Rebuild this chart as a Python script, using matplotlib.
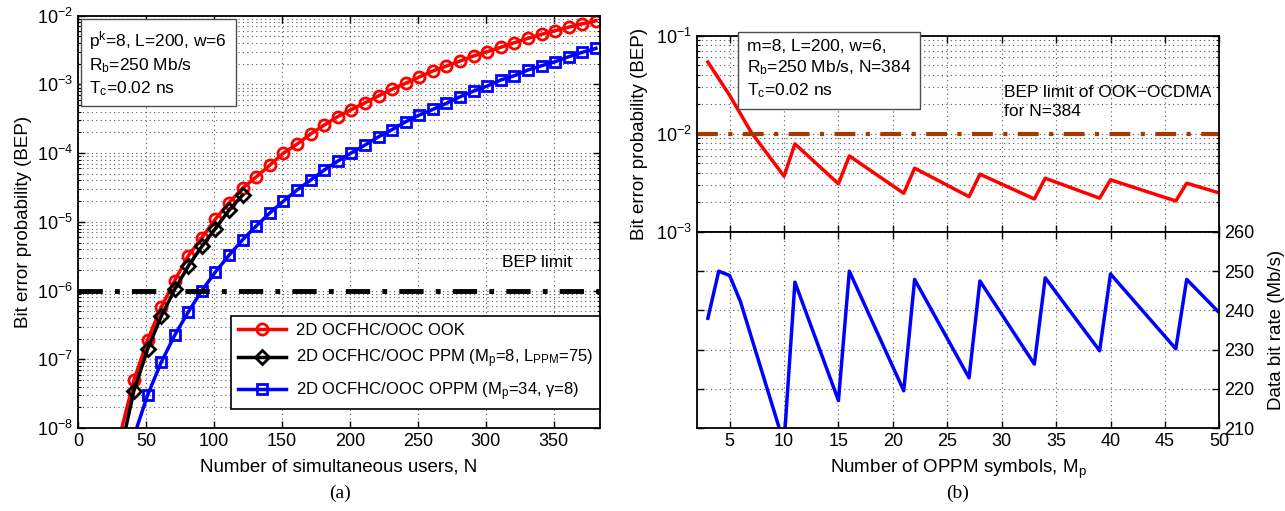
import numpy as np
import matplotlib
matplotlib.use("Agg")
import matplotlib.pyplot as plt
from matplotlib.ticker import LogLocator, NullFormatter, MultipleLocator

# ---------------------------------------------------------
# DATA (a): BEP versus number of simultaneous users
# ---------------------------------------------------------

users_ook = [31, 41, 51, 61, 71, 81, 91, 101, 111, 121, 131, 141, 151, 161,
             171, 181, 191, 201, 211, 221, 231, 241, 251, 261, 271, 281,
             291, 301, 311, 321, 331, 341, 351, 361, 371, 381]
bep_ook = [8.3e-9, 5.0e-8, 1.9e-7, 5.7e-7, 1.4e-6, 3.2e-6, 5.9e-6, 1.1e-5,
           1.9e-5, 3.1e-5, 4.5e-5, 6.7e-5, 1.0e-4, 1.35e-4, 1.9e-4, 2.56e-4,
           3.4e-4, 4.3e-4, 5.4e-4, 6.8e-4, 8.5e-4, 1.04e-3, 1.28e-3, 1.57e-3,
           1.85e-3, 2.19e-3, 2.59e-3, 2.99e-3, 3.47e-3, 4.05e-3, 4.68e-3,
           5.36e-3, 6.05e-3, 6.8e-3, 7.6e-3, 8.45e-3]

users_ppm = [31, 41, 51, 61, 71, 81, 91, 101, 111, 121]
bep_ppm = [4.4e-9, 3.5e-8, 1.39e-7, 4.2e-7, 1.04e-6, 2.27e-6, 4.4e-6, 8.0e-6,
           1.48e-5, 2.45e-5]

users_oppm = [41, 51, 61, 71, 81, 91, 101, 111, 121, 131, 141, 151, 161, 171,
              181, 191, 201, 211, 221, 231, 241, 251, 261, 271, 281, 291,
              301, 311, 321, 331, 341, 351, 361, 371, 381]
bep_oppm = [7.6e-9, 3.0e-8, 9.0e-8, 2.24e-7, 4.9e-7, 1.0e-6, 1.87e-6, 3.27e-6,
            5.5e-6, 8.7e-6, 1.35e-5, 2.0e-5, 2.9e-5, 4.05e-5, 5.66e-5, 7.65e-5,
            1.01e-4, 1.31e-4, 1.73e-4, 2.2e-4, 2.86e-4, 3.58e-4, 4.33e-4,
            5.3e-4, 6.6e-4, 8.0e-4, 9.46e-4, 1.16e-3, 1.34e-3, 1.62e-3,
            1.87e-3, 2.14e-3, 2.53e-3, 2.93e-3, 3.35e-3]

bep_limit_a = 1e-6

# ---------------------------------------------------------
# DATA (b): BEP and data rate versus OPPM symbols
# ---------------------------------------------------------

mp_bep = [3, 5, 7, 10, 11, 15, 16, 21, 22, 27, 28, 33, 34, 39, 40, 46, 47, 50]
bep_mp = [5.4e-2, 2.47e-2, 1.03e-2, 3.7e-3, 7.9e-3, 3.1e-3, 5.95e-3, 2.48e-3,
          4.47e-3, 2.29e-3, 3.88e-3, 2.17e-3, 3.53e-3, 2.21e-3, 3.4e-3,
          2.07e-3, 3.14e-3, 2.5e-3]

mp_rate = [3, 4, 5, 6, 10, 11, 15, 16, 21, 22, 27, 28, 33, 34, 39, 40, 46, 47, 50]
rate_mp = [238.0, 250.0, 248.9, 242.2, 206.0, 247.2, 217.0, 250.0, 219.5,
           247.9, 222.8, 247.5, 226.3, 248.3, 229.7, 249.3, 230.2, 247.9, 239.4]

bep_limit_b = 1e-2

# ---------------------------------------------------------
# STYLE
# ---------------------------------------------------------

plt.rcParams['font.family'] = ['Liberation Sans', 'DejaVu Sans']
plt.rcParams['font.size'] = 12
plt.rcParams['mathtext.fontset'] = 'custom'
plt.rcParams['mathtext.rm'] = 'Liberation Sans'
plt.rcParams['mathtext.it'] = 'Liberation Sans'
plt.rcParams['mathtext.bf'] = 'Liberation Sans:bold'
plt.rcParams['axes.linewidth'] = 1.3

grid_kw = dict(linestyle=(0, (1, 3)), color='0.35', linewidth=0.8)
label_size = 13.5


def style_ticks(ax):
    ax.tick_params(which='both', direction='in', top=True, right=True,
                   labelsize=13)
    ax.tick_params(which='major', length=5, width=1)
    ax.tick_params(which='minor', length=2.5, width=0.8)


fig = plt.figure(figsize=(12.85, 5.11), dpi=100)

# =========================================================
# PANEL (a)
# =========================================================

ax1 = fig.add_axes([0.0609, 0.1624, 0.4060, 0.8069])

ax1.plot(users_ook, bep_ook, '-o', color='red', lw=2.5, ms=8, mew=2,
         mfc='none', markevery=slice(1, None), label='2D OCFHC/OOC OOK')
ax1.plot(users_ppm, bep_ppm, '-D', color='black', lw=2.5, ms=7, mew=2,
         mfc='none', markevery=slice(1, None),
         label='2D OCFHC/OOC PPM (M$_p$=8, L$_{PPM}$=75)')
ax1.plot(users_oppm, bep_oppm, '-s', color='blue', lw=2.5, ms=7, mew=2,
         mfc='none', markevery=slice(1, None),
         label='2D OCFHC/OOC OPPM (M$_p$=34, γ=8)')
ax1.axhline(bep_limit_a, color='black', lw=3.5, linestyle=(0, (5, 2.5, 1, 2.5)))

ax1.set_yscale('log')
ax1.set_xlim(0, 384)
ax1.set_ylim(1e-8, 1e-2)
ax1.xaxis.set_major_locator(MultipleLocator(50))
ax1.yaxis.set_major_locator(LogLocator(base=10, numticks=10))
ax1.yaxis.set_minor_locator(LogLocator(base=10, subs=np.arange(2, 10), numticks=100))
ax1.yaxis.set_minor_formatter(NullFormatter())
ax1.grid(True, which='both', **grid_kw)
style_ticks(ax1)

ax1.set_xlabel('Number of simultaneous users, N', fontsize=label_size, labelpad=6)
ax1.set_ylabel('Bit error probability (BEP)', fontsize=label_size, labelpad=4)

ax1.text(312, 2.55e-6, 'BEP limit', fontsize=12.5, va='center')
ax1.text(0.021, 0.968, 'p$^k$=8, L=200, w=6\nR$_b$=250 Mb/s\nT$_c$=0.02 ns',
         transform=ax1.transAxes, fontsize=12.5, va='top', ha='left',
         linespacing=1.3,
         bbox=dict(boxstyle='square,pad=0.5', facecolor='white',
                   edgecolor='0.3', linewidth=1))

leg = ax1.legend(loc='lower right', bbox_to_anchor=(1.0, 0.045),
                 borderaxespad=0, fontsize=12, fancybox=False,
                 framealpha=1, edgecolor='black', handlelength=2.9,
                 labelspacing=0.6, handletextpad=0.6)
leg.get_frame().set_linewidth(1.2)

# =========================================================
# PANEL (b) TOP: BEP
# =========================================================

ax2 = fig.add_axes([0.5424, 0.546, 0.4065, 0.3841])

ax2.plot(mp_bep, bep_mp, '-', color='red', lw=2.5)
ax2.axhline(bep_limit_b, color='#a33a00', lw=3, linestyle=(0, (5, 2.5, 1, 2.5)))

ax2.set_yscale('log')
ax2.set_xlim(2, 50)
ax2.set_ylim(1e-3, 1e-1)
ax2.xaxis.set_major_locator(MultipleLocator(5))
ax2.yaxis.set_major_locator(LogLocator(base=10, numticks=10))
ax2.yaxis.set_minor_locator(LogLocator(base=10, subs=np.arange(2, 10), numticks=100))
ax2.yaxis.set_minor_formatter(NullFormatter())
ax2.grid(True, which='both', **grid_kw)
style_ticks(ax2)
ax2.tick_params(labelbottom=False)
ax2.set_ylabel('Bit error probability (BEP)', fontsize=label_size, labelpad=6)

ax2.text(0.095, 0.982, 'm=8, L=200, w=6,\nR$_b$=250 Mb/s, N=384\nT$_c$=0.02 ns',
         transform=ax2.transAxes, fontsize=12.5, va='top', ha='left',
         linespacing=1.3,
         bbox=dict(boxstyle='square,pad=0.5', facecolor='white',
                   edgecolor='0.3', linewidth=1))
ax2.text(0.588, 0.75, 'BEP limit of OOK\u2212OCDMA\nfor N=384',
         transform=ax2.transAxes, fontsize=12.5, va='top', ha='left',
         linespacing=1.35)

# =========================================================
# PANEL (b) BOTTOM: DATA BIT RATE
# =========================================================

ax3 = fig.add_axes([0.5424, 0.1624, 0.4065, 0.3836])

ax3.plot(mp_rate, rate_mp, '-', color='blue', lw=2.5)

ax3.set_xlim(2, 50)
ax3.set_ylim(210, 260)
ax3.xaxis.set_major_locator(MultipleLocator(5))
ax3.yaxis.set_major_locator(MultipleLocator(10))
ax3.grid(True, which='major', **grid_kw)
style_ticks(ax3)
ax3.tick_params(axis='y', labelleft=False, labelright=True)
ax3.yaxis.set_label_position('right')
ax3.set_ylabel('Data bit rate (Mb/s)', fontsize=label_size, labelpad=10)
ax3.set_xlabel('Number of OPPM symbols, M$_p$', fontsize=label_size, labelpad=6)

# ---------------------------------------------------------
# CAPTIONS
# ---------------------------------------------------------

fig.text(0.2646, 0.035, '(a)', family='Liberation Serif', fontsize=14,
         ha='center', va='center')
fig.text(0.7455, 0.035, '(b)', family='Liberation Serif', fontsize=14,
         ha='center', va='center')

fig.savefig('out.png', dpi=100)
